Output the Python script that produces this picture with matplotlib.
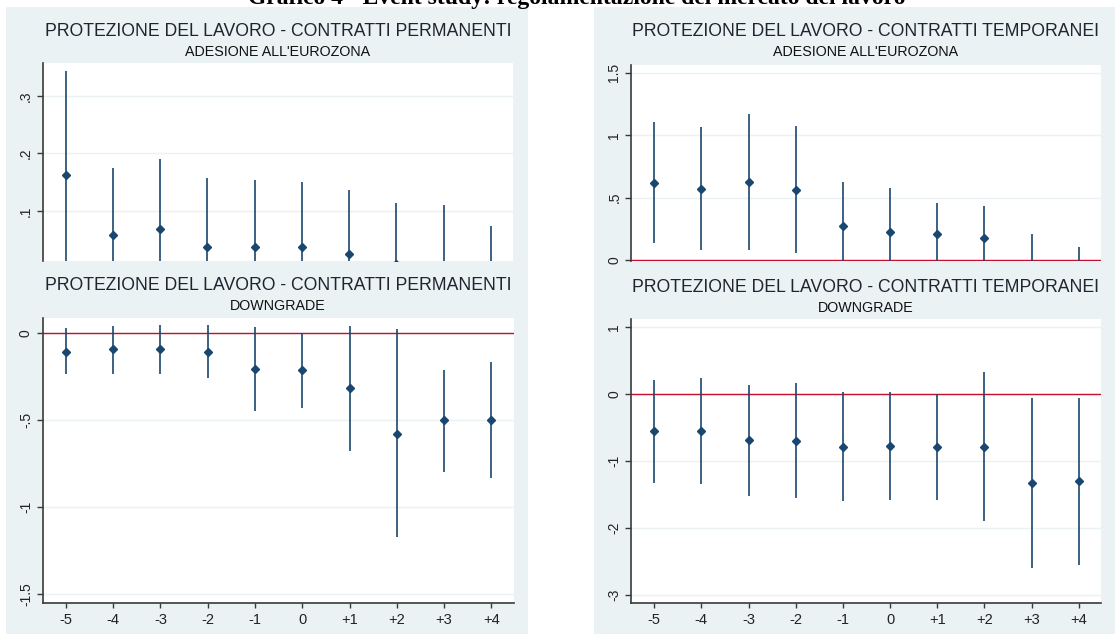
import matplotlib
matplotlib.use("Agg")
import matplotlib.pyplot as plt
from matplotlib.patches import Rectangle

plt.rcParams['font.family'] = ['Liberation Sans', 'DejaVu Sans']

W, H = 1115, 634

periods = ["-5", "-4", "-3", "-2", "-1", "0", "+1", "+2", "+3", "+4"]

# Top-left: permanent contracts, euro adoption
tl_point = [0.162, 0.058, 0.069, 0.037, 0.037, 0.037, 0.025, 0.007, 0.0, -0.008]
tl_upper = [0.343, 0.174, 0.191, 0.157, 0.154, 0.150, 0.137, 0.114, 0.110, 0.074]
tl_lower = [-0.02, -0.06, -0.05, -0.08, -0.08, -0.08, -0.09, -0.10, -0.11, -0.09]

# Top-right: temporary contracts, euro adoption
tr_point = [0.617, 0.571, 0.625, 0.563, 0.272, 0.227, 0.211, 0.173, -0.10, -0.05]
tr_upper = [1.105, 1.062, 1.169, 1.070, 0.625, 0.574, 0.456, 0.435, 0.211, 0.104]
tr_lower = [0.139, 0.083, 0.083, 0.059, -0.08, -0.12, -0.03, -0.09, -0.41, -0.20]

# Bottom-left: permanent contracts, downgrade
bl_point = [-0.108, -0.094, -0.094, -0.108, -0.209, -0.215, -0.319, -0.580, -0.503, -0.503]
bl_upper = [0.027, 0.040, 0.046, 0.046, 0.033, 0.0, 0.040, 0.021, -0.215, -0.165]
bl_lower = [-0.236, -0.236, -0.236, -0.261, -0.447, -0.434, -0.678, -1.173, -0.797, -0.835]

# Bottom-right: temporary contracts, downgrade
br_point = [-0.563, -0.563, -0.692, -0.712, -0.792, -0.777, -0.792, -0.792, -1.340, -1.305]
br_upper = [0.204, 0.239, 0.134, 0.154, 0.020, 0.020, 0.0, 0.319, -0.060, -0.060]
br_lower = [-1.340, -1.355, -1.524, -1.554, -1.604, -1.584, -1.584, -1.903, -2.595, -2.565]

tl_ticks = [0.1, 0.2, 0.3]; tl_labels = [".1", ".2", ".3"]
tr_ticks = [0, 0.5, 1, 1.5]; tr_labels = ["0", ".5", "1", "1.5"]
bl_ticks = [0, -0.5, -1, -1.5]; bl_labels = ["0", "-.5", "-1", "-1.5"]
br_ticks = [1, 0, -1, -2, -3]; br_labels = ["1", "0", "-1", "-2", "-3"]

title_perm = "PROTEZIONE DEL LAVORO - CONTRATTI PERMANENTI"
title_temp = "PROTEZIONE DEL LAVORO - CONTRATTI TEMPORANEI"
sub_euro = "ADESIONE ALL'EUROZONA"
sub_down = "DOWNGRADE"
main_title = "Grafico 4 - Event study: regolamentazione del mercato del lavoro"

BG = '#eaf2f3'
NAVY = '#1a476f'
RED = '#c8102e'
SPINE = '#3a3a3a'

fig = plt.figure(figsize=(W / 100, H / 100), dpi=100)
fig.patch.set_facecolor('white')

def px_rect(x0, y0, x1, y1):
    return [x0 / W, 1 - y1 / H, (x1 - x0) / W, (y1 - y0) / H]

# panel backgrounds
for (x0, x1) in [(6, 528), (594, 1115)]:
    r = px_rect(x0, 7, x1, 634)
    fig.patches.append(Rectangle((r[0], r[1]), r[2], r[3], transform=fig.transFigure,
                                 facecolor=BG, edgecolor='none', zorder=-5))

def panel(rect_px, point, upper, lower, ylim, ticks, labels, title, sub,
          title_y, sub_y, show_x, zero_line):
    ax = fig.add_axes(px_rect(*rect_px))
    ax.set_zorder(2)
    ax.set_facecolor('white')
    x = list(range(len(periods)))
    for s in ['top', 'right']:
        ax.spines[s].set_visible(False)
    ax.spines['left'].set_color(SPINE)
    ax.spines['left'].set_linewidth(1.2)
    if show_x:
        ax.spines['bottom'].set_color(SPINE)
        ax.spines['bottom'].set_linewidth(1.2)
    else:
        ax.spines['bottom'].set_visible(False)
    ax.set_xlim(-0.49, 9.47)
    ax.set_ylim(*ylim)
    ax.set_yticks(ticks)
    ax.set_yticklabels(labels, rotation=90, va='center', fontsize=10, color='#222222')
    ax.tick_params(axis='y', length=4.5, width=1.0, color=SPINE, pad=2.5)
    for t in ticks:
        ax.axhline(t, color=BG, lw=1.0, zorder=0.5)
    if show_x:
        ax.set_xticks(x)
        ax.set_xticklabels(periods, fontsize=10.5, color='#222222')
        ax.tick_params(axis='x', length=3.5, width=1.0, color=SPINE, pad=4)
    else:
        ax.set_xticks([])
    if zero_line:
        ax.axhline(0, color=RED, lw=1.0, zorder=1)
    ax.vlines(x, lower, upper, color=NAVY, lw=1.2, zorder=2)
    ax.plot(x, point, linestyle='none', marker='D', ms=3.6, color=NAVY,
            markeredgecolor=NAVY, zorder=3)
    cx = (rect_px[0] + rect_px[2]) / 2 / W
    fig.text(cx, 1 - title_y / H, title, ha='center', va='center',
             fontsize=12.7, color='#1f2430')
    fig.text(cx, 1 - sub_y / H, sub, ha='center', va='center',
             fontsize=10.3, color='#111111')
    return ax

panel((42.7, 63, 513, 260.7), tl_point, tl_upper, tl_lower, (0.0136, 0.357),
      tl_ticks, tl_labels, title_perm, sub_euro, 31, 52, False, False)
panel((631, 65, 1101, 261), tr_point, tr_upper, tr_lower, (-0.008, 1.562),
      tr_ticks, tr_labels, title_temp, sub_euro, 31, 52, False, True)
panel((42.7, 317.7, 513.6, 602.5), bl_point, bl_upper, bl_lower, (-1.55, 0.088),
      bl_ticks, bl_labels, title_perm, sub_down, 285, 306.5, True, True)
panel((631, 319, 1101, 603), br_point, br_upper, br_lower, (-3.125, 1.115),
      br_ticks, br_labels, title_temp, sub_down, 287, 308, True, True)

fig.text(577 / W, 1 - 4 / H, main_title, ha='center', va='baseline',
         fontsize=17, fontweight='bold', family=['Liberation Serif', 'DejaVu Serif'],
         color='black')

fig.savefig('out.png', dpi=100)
